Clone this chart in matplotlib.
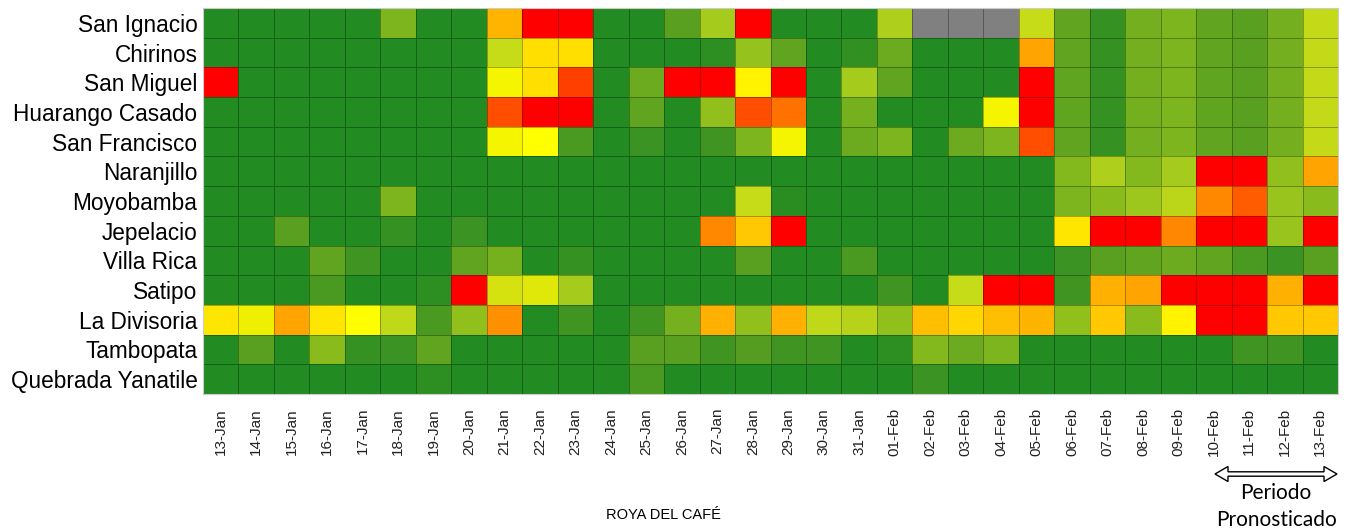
import matplotlib
matplotlib.use("Agg")
import matplotlib.pyplot as plt
import numpy as np
from matplotlib.colors import LinearSegmentedColormap
from matplotlib.patches import Polygon

# risk level per station and day (0 = green ... 100 = red, nan = no data)
stations = ["San Ignacio", "Chirinos", "San Miguel", "Huarango Casado", "San Francisco",
            "Naranjillo", "Moyobamba", "Jepelacio", "Villa Rica", "Satipo", "La Divisoria",
            "Tambopata", "Quebrada Yanatile"]
days = [f"{d}-Jan" for d in range(13, 32)] + [f"{d:02d}-Feb" for d in range(1, 14)]
nan = np.nan

san_ignacio = [0, 0, 0, 0, 0, 30, 0, 0, 72, 100, 100, 0, 0, 20, 40, 100,
               0, 0, 0, 42, nan, nan, nan, 48, 22, 8, 27, 30, 22, 20, 27, 47]
chirinos = [0, 0, 0, 0, 0, 0, 0, 0, 48, 63, 63, 0, 0, 0, 5, 36,
            22, 0, 6, 25, 0, 0, 0, 75, 22, 8, 27, 30, 22, 20, 27, 47]
san_miguel = [100, 0, 0, 0, 0, 0, 0, 0, 56, 63, 92, 0, 25, 100, 100, 60,
              100, 0, 40, 22, 0, 0, 0, 100, 22, 8, 27, 30, 22, 20, 27, 47]
huarango = [0, 0, 0, 0, 0, 0, 0, 0, 90, 100, 100, 0, 22, 0, 35, 90,
            85, 0, 28, 0, 0, 0, 56, 100, 22, 8, 27, 30, 22, 20, 27, 47]
san_francisco = [0, 0, 0, 0, 0, 0, 0, 0, 56, 58, 15, 0, 10, 0, 12, 30,
                 56, 0, 25, 30, 0, 25, 30, 90, 22, 8, 27, 30, 22, 20, 27, 47]
naranjillo = [0] * 24 + [32, 42, 32, 40, 100, 100, 35, 75]
moyobamba = [0, 0, 0, 0, 0, 30, 0, 0, 0, 0, 0, 0, 0, 0, 0, 48,
             3, 0, 0, 0, 0, 0, 0, 0, 30, 33, 38, 45, 82, 88, 37, 33]
jepelacio = [0, 0, 20, 0, 0, 8, 0, 10, 0, 0, 0, 0, 0, 0, 82, 68,
             100, 0, 0, 0, 0, 0, 0, 0, 62, 100, 100, 82, 100, 100, 37, 100]
villa_rica = [0, 0, 0, 22, 12, 0, 0, 22, 28, 0, 8, 0, 0, 0, 0, 20,
              0, 0, 15, 0, 0, 0, 0, 0, 10, 20, 22, 25, 22, 15, 10, 20]
satipo = [0, 0, 0, 15, 0, 0, 5, 100, 50, 52, 40, 0, 0, 0, 0, 0,
          0, 0, 0, 12, 0, 48, 100, 100, 12, 73, 75, 100, 100, 100, 73, 100]
la_divisoria = [62, 55, 75, 62, 58, 46, 15, 35, 80, 0, 12, 0, 12, 28, 73, 35,
                73, 46, 44, 35, 70, 65, 70, 72, 35, 68, 33, 60, 100, 100, 68, 68]
tambopata = [0, 20, 0, 33, 8, 10, 22, 0, 0, 0, 0, 0, 20, 20, 12, 18,
             12, 12, 0, 5, 32, 25, 30, 0, 0, 0, 0, 0, 0, 12, 12, 0]
yanatile = [0, 0, 0, 0, 0, 0, 5, 0, 0, 0, 0, 0, 15, 0, 0, 0,
            0, 0, 0, 0, 10, 0, 0, 0, 0, 0, 0, 0, 0, 0, 0, 0]

grid = np.array([san_ignacio, chirinos, san_miguel, huarango, san_francisco, naranjillo,
                 moyobamba, jepelacio, villa_rica, satipo, la_divisoria, tambopata, yanatile],
                dtype=float)

nodes = [(0, "#228B22"), (10, "#3A9322"), (20, "#5AA020"), (30, "#7DB51E"),
         (40, "#A5CB1C"), (48, "#C8DC18"), (55, "#F0F000"), (58, "#FFFF00"),
         (63, "#FFE000"), (70, "#FFC000"), (75, "#FFA500"), (82, "#FF8800"),
         (90, "#FF5000"), (100, "#FF0000")]
cmap = LinearSegmentedColormap.from_list("roya", [(v / 100, c) for v, c in nodes])
cmap.set_bad("#808080")

W, H = 1353, 529
fig = plt.figure(figsize=(W / 100, H / 100), dpi=100)
ax = fig.add_axes([203 / W, 1 - 394 / H, 1135 / W, 386 / H])
ax.pcolormesh(np.ma.masked_invalid(grid), cmap=cmap, vmin=0, vmax=100,
              edgecolor=(0, 0, 0, 0.3), linewidth=0.7)
ax.set_xlim(0, len(days)); ax.set_ylim(len(stations), 0)
ax.set_yticks(np.arange(len(stations)) + 0.5)
ax.set_yticklabels(stations, fontsize=16.3, family="Liberation Sans")
ax.set_xticks(np.arange(len(days)) + 0.5)
ax.set_xticklabels(days, rotation=90, fontsize=11, family="Liberation Sans", color="#222222")
ax.tick_params(length=0, pad=4)
ax.tick_params(axis="x", pad=10)
for s in ax.spines.values():
    s.set_color("#cccccc"); s.set_linewidth(0.8)

# forecast period marker: hollow double arrow over 10-Feb .. 13-Feb
px = lambda x, y: (x / W, 1 - y / H)
x0, x1, yc, hh, sh, hl = 1215, 1337, 474, 7.5, 2.2, 13
arrow = Polygon([px(x0, yc), px(x0 + hl, yc - hh), px(x0 + hl, yc - sh), px(x1 - hl, yc - sh),
                 px(x1 - hl, yc - hh), px(x1, yc), px(x1 - hl, yc + hh), px(x1 - hl, yc + sh),
                 px(x0 + hl, yc + sh), px(x0 + hl, yc + hh)], closed=True,
                transform=fig.transFigure, fc="white", ec="black", lw=1.0)
fig.patches.append(arrow)
fig.text(1276 / W, 1 - 493 / H, "Periodo", fontsize=15, family="Lato",
         ha="center", va="center")
fig.text(1276 / W, 1 - 520 / H, "Pronosticado", fontsize=15, family="Lato",
         ha="center", va="center")
fig.text(663 / W, 1 - 515 / H, "ROYA DEL CAFÉ", fontsize=10.5,
         family=["Liberation Sans Narrow", "Liberation Sans"], ha="center", va="center")

fig.savefig("out.png", dpi=100)
